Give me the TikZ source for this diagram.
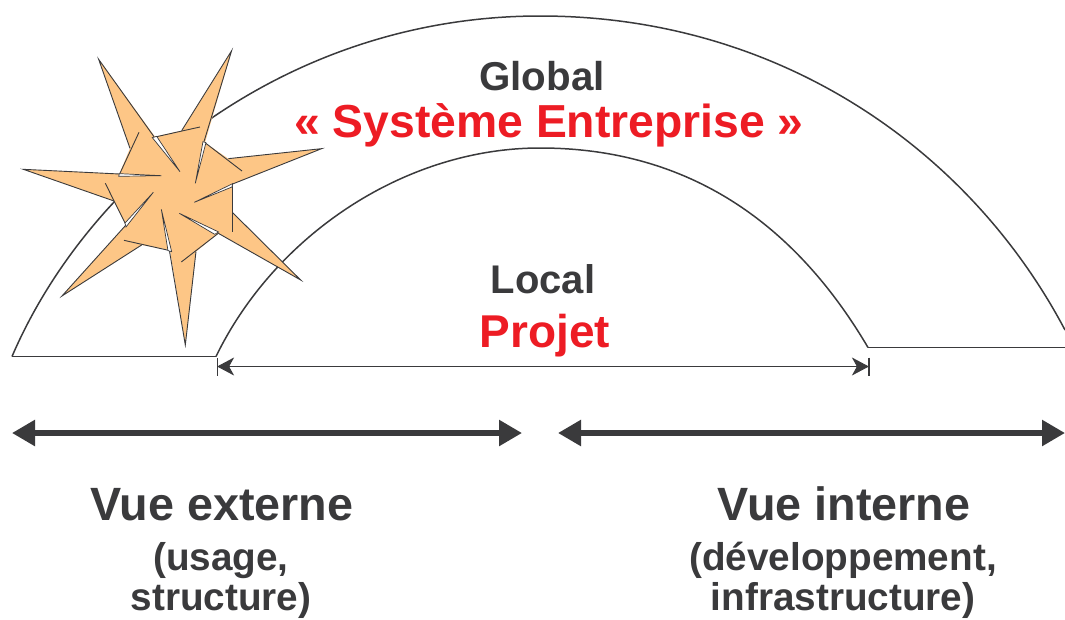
\documentclass[tikz,border=0pt]{standalone}
\usepackage{fontspec}
\setmainfont{Liberation Sans}
\usetikzlibrary{arrows.meta}
\definecolor{ink}{HTML}{3A3A3C}
\definecolor{redtxt}{HTML}{ED1C24}
\definecolor{starfill}{HTML}{FDC686}
\tikzset{
  lab/.style={anchor=base,inner sep=0pt,font=\bfseries\fontsize{#1}{#1}\selectfont,text=ink},
  redlab/.style={anchor=base,inner sep=0pt,font=\bfseries\fontsize{#1}{#1}\selectfont,text=redtxt},
  arc line/.style={draw=ink,line width=1.5pt},
  spine/.style={draw=ink,line width=5.5pt,{Triangle[length=23pt,width=25pt]}-{Triangle[length=23pt,width=25pt]}},
  dim/.style={draw=ink,line width=1pt,{Bar[width=18pt,line width=1.6pt]Stealth[length=17pt,width=18pt,inset=5pt,sep=-1pt]}-{Stealth[length=17pt,width=18pt,inset=5pt,sep=-1pt]Bar[width=18pt,line width=1.6pt]}},
  star edge/.style={draw=ink,line width=.9pt,line join=miter},
  slit/.style={fill=white,draw=ink,line width=.7pt,line join=miter},
}
\begin{document}
\begin{tikzpicture}[x=1pt,y=-1pt]
\useasboundingbox (0,0) rectangle (1065,619);
% coordinates
\coordinate (oa) at (12,356.5);
\coordinate (ob) at (216,356.5);
\coordinate (oc) at (868,347.5);
\coordinate (od) at (1065,347.5);
\coordinate (oe) at (1065,330);
\coordinate (da) at (216.5,366.5);
\coordinate (db) at (869.5,366.5);
\coordinate (la) at (12,433);
\coordinate (lb) at (522,433);
\coordinate (ra) at (558,433);
\coordinate (rb) at (1065,433);
% arcs
\draw[arc line] (oa) .. controls (90,175) and (290,16) .. (540,16) .. controls (780,16) and (970,150) .. (oe);
\draw[arc line] (ob) .. controls (275,235) and (405,148) .. (540,148) .. controls (680,148) and (790,215) .. (oc);
\draw[arc line] (oa) -- (ob);
\draw[arc line] (oc) -- (od);
% dimension and spine arrows
\draw[dim] (da) -- (db);
\draw[spine] (la) -- (lb);
\draw[spine] (ra) -- (rb);
% star
\begin{scope}[x=.3333pt,y=-.3333pt,shift={(0pt,-30pt)}]
\fill[starfill] (296,88)--(465,320)--(545,302)--(695,62)--(615,338)--(685,386)--(965,356)--(698,462)--(698,548)--(902,750)--(655,610)--(588,665)--(556,945)--(510,660)--(425,645)--(186,798)--(378,585)--(342,513)--(70,418)--(358,432)--(390,355)--cycle;
\draw[star edge] (390,355)--(296,88)--(462,320);
\draw[star edge] (545,302)--(695,62)--(612,335);
\draw[star edge] (685,386)--(965,356)--(698,462);
\draw[star edge] (698,462)--(698,605);
\draw[star edge] (698,548)--(902,750)--(655,610);
\draw[star edge] (588,665)--(556,945)--(508,660);
\draw[star edge] (425,645)--(186,798)--(378,585);
\draw[star edge] (342,513)--(70,418)--(358,432);
\draw[star edge] (417,307)--(358,434);
\draw[star edge] (470,320)--(600,291);
\draw[star edge] (615,338)--(726,423);
\draw[star edge] (655,610)--(544,696);
\draw[star edge] (510,662)--(372,631);
\draw[star edge] (378,585)--(316,460);
\draw[slit] (457,323)--(540,425)--(470,319)--cycle;
\draw[slit] (609,335)--(586,460)--(618,338)--cycle;
\draw[slit] (698,461)--(583,517)--(696,471)--cycle;
\draw[slit] (656,606)--(538,550)--(644,613)--cycle;
\draw[slit] (504,662)--(484,538)--(515,665)--cycle;
\draw[slit] (378,591)--(460,487)--(375,579)--cycle;
\draw[slit] (356,439)--(484,437)--(358,431)--cycle;
\end{scope}
% labels
\node[lab=40.3] (global) at (542,90) {Global};
\node[redlab=46.3] (sys) at (549,137) {« Système Entreprise »};
\node[lab=40] (local) at (543,293.5) {Local};
\node[redlab=46] (projet) at (545,347) {Projet};
\node[lab=46.7] (vext) at (222,520) {Vue externe};
\node[lab=38.7] (usage) at (221,570.5) {(usage,};
\node[lab=38.7] (struct) at (221,610.5) {structure)};
\node[lab=46.7] (vint) at (844,520) {Vue interne};
\node[lab=38.7] (dev) at (843,570.5) {(développement,};
\node[lab=38.7] (infra) at (843,610.5) {infrastructure)};
\end{tikzpicture}
\end{document}
